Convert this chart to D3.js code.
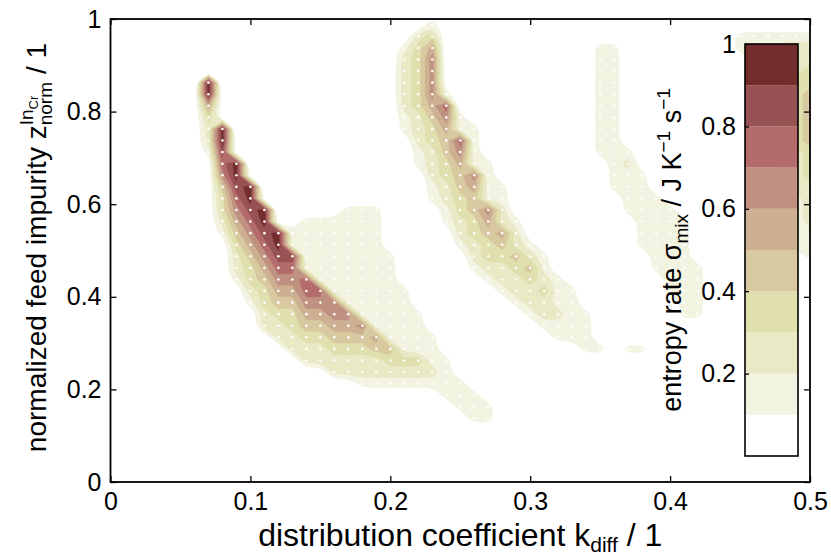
<!DOCTYPE html>
<html>
<head>
<meta charset="utf-8">
<script src="https://cdn.jsdelivr.net/npm/d3@7"></script>
<style>
  body { margin: 0; background: #fff; }
  svg { display: block; }
  .axis text { font-family: "Liberation Sans", Arial, sans-serif; font-size: 25px; fill: #000; }
  .axis line { stroke: #000; stroke-width: 1.3; }
</style>
</head>
<body>
<svg id="chart" width="831" height="555"></svg>
<script>
// sampled grid: k_diff 0 .. 0.5 (step 0.01), z_norm 0.0125 .. 0.9875 (step 0.025)
const gridX = d3.range(51).map(i => i / 100);
const gridY = d3.range(40).map(k => 0.9875 - k * 0.025);   // top row first

// entropy rate level, one string per grid row (top row first)
// "start:digits" -> digit d at column start, start+1, ... ; d = band 0.d .. 0.d+0.1 ; blank = 0
const levelRows = [
  "23:1",
  "22:23,45:111111",
  "21:135,35:11,45:111222",
  "21:236,35:11,46:11222",
  "21:236,35:11,46:11223",
  "7:9,21:236,35:11,46:11233",
  "7:9,21:2361,35:11,47:1234",
  "7:5,21:2357,35:11,47:1234",
  "7:3,21:12461,35:11,47:1234",
  "7:29,21:123511,35:11,48:234",
  "7:29,22:23471,35:11,48:134",
  "7:18,22:12461,35:111,48:123",
  "8:79,22:123511,36:12,48:123",
  "8:69,23:23461,36:111,48:123",
  "8:489,23:124511,36:111,49:22",
  "8:379,23:123411,37:111,49:12",
  "8:3689,17:111,24:13462,37:1111,49:12",
  "8:2579,14:111111,24:123521,38:1111,49:12",
  "8:146891111111,25:23452,38:1111,49:11",
  "9:35791111111,25:123421,38:1111,49:11",
  "9:24688,14:1111111,26:233421,39:111,50:1",
  "9:23577,14:1111111,26:122341,39:1111",
  "9:134667,15:111111,27:122321,40:111",
  "10:235577,16:111111,28:122311,40:111",
  "10:1344666,17:11111,29:12211,41:11",
  "11:2335566,18:11111,30:12211,41:11",
  "11:22344556,19:1111,31:1111",
  "12:22334445,20:1111,32:111",
  "13:22233344111,34:11,37:11",
  "14:22222233311",
  "16:222222221",
  "18:11111111",
  "24:111",
  "25:111",
  "26:11",
  "", "", "", "", ""
];

const levels = [0.1, 0.2, 0.3, 0.4, 0.5, 0.6, 0.7, 0.8, 0.9];
const bandColors = ["#f3f3e2", "#e9e9c6", "#e0dfae", "#d9c9a0", "#cdb091",
                    "#c09080", "#b46b6b", "#975353", "#732d2d"];
const xTicks = [0, 0.1, 0.2, 0.3, 0.4, 0.5];
const yTicks = [0, 0.2, 0.4, 0.6, 0.8, 1];
const cbTicks = [0.2, 0.4, 0.6, 0.8, 1];

const nx = gridX.length, ny = gridY.length;
const values = [];
levelRows.forEach(function(row) {
  const line = new Array(nx).fill(0);
  row.split(",").filter(s => s).forEach(function(seg) {
    const parts = seg.split(":");
    const start = +parts[0];
    parts[1].split("").forEach(function(c, j) {
      line[start + j] = +c === 0 ? 0 : +c / 10 + 0.05;
    });
  });
  values.push(...line);
});

const svg = d3.select("#chart");
const x = d3.scaleLinear().domain([0, 0.5]).range([110.5, 810]);
const y = d3.scaleLinear().domain([0, 1]).range([482, 19]);

svg.append("clipPath").attr("id", "plotclip")
  .append("rect")
  .attr("x", x(0)).attr("y", y(1))
  .attr("width", x(0.5) - x(0)).attr("height", y(0) - y(1));

// grid index -> pixels
const dx = gridX[1] - gridX[0];
const dy = gridY[0] - gridY[1];
const px = gx => x(gridX[0] + (gx - 0.5) * dx);
const py = gy => y(gridY[0] - (gy - 0.5) * dy);

function bandPath(geom, curve) {
  const line = d3.line().curve(curve);
  let out = "";
  geom.coordinates.forEach(poly => poly.forEach(ring => {
    out += line(ring.slice(0, -1).map(p => [px(p[0]), py(p[1])]));
  }));
  return out;
}

const contours = d3.contours().size([nx, ny]).thresholds(levels)(values);

const plot = svg.append("g").attr("clip-path", "url(#plotclip)");
plot.selectAll("path.band")
  .data(contours)
  .enter()
  .append("path")
  .attr("class", "band")
  .attr("d", (d, i) => bandPath(d, i < 2 ? d3.curveBasisClosed : d3.curveLinearClosed))
  .attr("fill-rule", "evenodd")
  .attr("fill", (d, i) => bandColors[i])
  .attr("stroke", (d, i) => bandColors[i])
  .attr("stroke-width", 0.4);

// sample points
const pts = [];
gridY.forEach(gy => gridX.forEach(gx => pts.push([gx, gy])));
plot.selectAll("circle.pt")
  .data(pts)
  .enter()
  .append("circle")
  .attr("class", "pt")
  .attr("cx", d => x(d[0]))
  .attr("cy", d => y(d[1]))
  .attr("r", 1.3)
  .attr("fill", "#fff");

// axes
const fmt = d => String(d);
svg.append("g").attr("class", "axis")
  .attr("transform", "translate(0," + y(0) + ")")
  .call(d3.axisBottom(x).tickValues(xTicks).tickSize(-6).tickPadding(10).tickFormat(fmt))
  .call(g => g.select(".domain").remove());
svg.append("g").attr("class", "axis")
  .attr("transform", "translate(0," + y(1) + ")")
  .call(d3.axisTop(x).tickValues(xTicks).tickSize(-6).tickFormat(""))
  .call(g => g.select(".domain").remove());
svg.append("g").attr("class", "axis")
  .attr("transform", "translate(" + x(0) + ",0)")
  .call(d3.axisLeft(y).tickValues(yTicks).tickSize(-6).tickPadding(9).tickFormat(fmt))
  .call(g => g.select(".domain").remove());
svg.append("g").attr("class", "axis")
  .attr("transform", "translate(" + x(0.5) + ",0)")
  .call(d3.axisRight(y).tickValues(yTicks).tickSize(-6).tickFormat(""))
  .call(g => g.select(".domain").remove());

svg.append("rect")
  .attr("x", x(0)).attr("y", y(1))
  .attr("width", x(0.5) - x(0)).attr("height", y(0) - y(1))
  .attr("fill", "none").attr("stroke", "#000").attr("stroke-width", 1.8);

// colorbar
const cb = d3.scaleLinear().domain([0, 1]).range([456, 44]);
const cbX = 745, cbW = 53;
const cbBands = [0].concat(levels);
const cbColors = ["#ffffff"].concat(bandColors);
svg.selectAll("rect.cb")
  .data(cbBands)
  .enter()
  .append("rect")
  .attr("class", "cb")
  .attr("x", cbX)
  .attr("y", d => cb(d + 0.1))
  .attr("width", cbW)
  .attr("height", d => cb(d) - cb(d + 0.1))
  .attr("fill", (d, i) => cbColors[i]);
svg.append("g").attr("class", "axis")
  .attr("transform", "translate(" + cbX + ",0)")
  .call(d3.axisLeft(cb).tickValues(cbTicks).tickSize(-4).tickPadding(9).tickFormat(fmt))
  .call(g => g.select(".domain").remove());
svg.append("rect")
  .attr("x", cbX).attr("y", cb(1))
  .attr("width", cbW).attr("height", cb(0) - cb(1))
  .attr("fill", "none").attr("stroke", "#000").attr("stroke-width", 1.6);

// labels
const labelFont = "'Liberation Sans', Arial, sans-serif";
function measure(str, size) {
  const t = svg.append("text").attr("font-family", labelFont).attr("font-size", size).text(str);
  const w = t.node().getComputedTextLength();
  t.remove();
  return w;
}

const xl = svg.append("text")
  .attr("x", (x(0) + x(0.5)) / 2).attr("y", 546)
  .attr("text-anchor", "middle")
  .attr("font-family", labelFont).attr("font-size", 32);
xl.append("tspan").text("distribution coefficient k");
xl.append("tspan").attr("font-size", 21).attr("dy", 6).text("diff");
xl.append("tspan").attr("dy", -6).text(" / 1");

const yl = svg.append("text")
  .attr("transform", "translate(46," + ((y(0) + y(1)) / 2 - 3) + ") rotate(-90)")
  .attr("text-anchor", "middle")
  .attr("font-family", labelFont).attr("font-size", 28);
yl.append("tspan").text("normalized feed impurity z");
yl.append("tspan").attr("font-size", 19).attr("dy", 6).text("norm");
const wNorm = measure("norm", 19), wIn = measure("In", 19), wCr = measure("Cr", 13);
yl.append("tspan").attr("font-size", 19).attr("dx", -wNorm).attr("dy", -19).text("In");
yl.append("tspan").attr("font-size", 13).attr("dy", 5).text("Cr");
yl.append("tspan").attr("dx", Math.max(0, wNorm - wIn - wCr) + 8).attr("dy", 8).text("/ 1");

const cl = svg.append("text")
  .attr("transform", "translate(681," + ((cb(0) + cb(1)) / 2) + ") rotate(-90)")
  .attr("text-anchor", "middle")
  .attr("font-family", labelFont).attr("font-size", 27);
cl.append("tspan").text("entropy rate σ");
cl.append("tspan").attr("font-size", 19).attr("dy", 7).text("mix");
cl.append("tspan").attr("dy", -7).text(" / J K");
cl.append("tspan").attr("font-size", 19).attr("dy", -11).text("−1");
cl.append("tspan").attr("dy", 11).text(" s");
cl.append("tspan").attr("font-size", 19).attr("dy", -11).text("−1");
</script>
</body>
</html>
